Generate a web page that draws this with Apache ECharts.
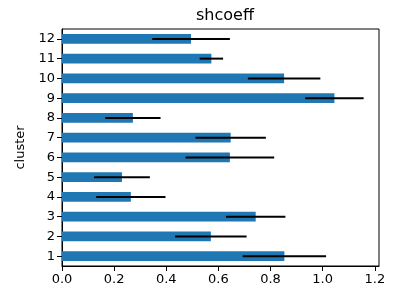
<!DOCTYPE html>
<html>
<head>
<meta charset="utf-8">
<script src="https://cdn.jsdelivr.net/npm/echarts@6/dist/echarts.min.js"></script>
<style>
  html, body { margin: 0; padding: 0; background: #fff; }
  #chart { width: 393px; height: 296px; }
</style>
</head>
<body>
<div id="chart"></div>
<script>
var clusters = ['1', '2', '3', '4', '5', '6', '7', '8', '9', '10', '11', '12'];
var shcoeff = [0.853, 0.571, 0.743, 0.264, 0.230, 0.644, 0.647, 0.272, 1.045, 0.852, 0.573, 0.495];
var shErr = [0.160, 0.137, 0.114, 0.133, 0.107, 0.170, 0.135, 0.106, 0.112, 0.139, 0.045, 0.149];
var xTicks = [0, 0.2, 0.4, 0.6, 0.8, 1.0, 1.2];

var errData = clusters.map(function (c, i) {
    return [i, shcoeff[i] - shErr[i], shcoeff[i] + shErr[i]];
});

var chart = echarts.init(document.getElementById('chart'));
var font = 'DejaVu Sans';

chart.setOption({
    animation: false,
    title: {
        text: 'shcoeff',
        left: 220,
        top: 3,
        textAlign: 'center',
        textStyle: { fontFamily: font, fontSize: 16, fontWeight: 'normal', color: '#000' }
    },
    grid: {
        left: 62, right: 14, top: 29, bottom: 30,
        show: true, borderColor: '#000', borderWidth: 1
    },
    xAxis: {
        type: 'value',
        min: 0,
        max: 1.216,
        splitLine: { show: false },
        axisLine: { show: true, lineStyle: { color: '#000' } },
        axisTick: { show: true, length: 5, customValues: xTicks, lineStyle: { color: '#000' } },
        axisLabel: {
            customValues: xTicks,
            fontFamily: font, fontSize: 13, color: '#000', margin: 7,
            formatter: function (v) { return v.toFixed(1); }
        }
    },
    yAxis: {
        type: 'category',
        data: clusters,
        name: 'cluster',
        nameLocation: 'middle',
        nameGap: 34,
        nameTextStyle: { fontFamily: font, fontSize: 13, color: '#000' },
        axisLine: { show: true, lineStyle: { color: '#000' } },
        axisTick: { show: true, alignWithLabel: true, length: 5, lineStyle: { color: '#000' } },
        axisLabel: { fontFamily: font, fontSize: 13, color: '#000', margin: 7 }
    },
    series: [
        {
            type: 'bar',
            data: shcoeff,
            barWidth: '50%',
            itemStyle: { color: '#1f77b4' }
        },
        {
            type: 'custom',
            data: errData,
            z: 5,
            renderItem: function (params, api) {
                var a = api.coord([api.value(1), api.value(0)]);
                var b = api.coord([api.value(2), api.value(0)]);
                return {
                    type: 'line',
                    shape: { x1: a[0], y1: a[1], x2: b[0], y2: b[1] },
                    style: { stroke: '#000', lineWidth: 2 }
                };
            }
        }
    ]
});
</script>
</body>
</html>
